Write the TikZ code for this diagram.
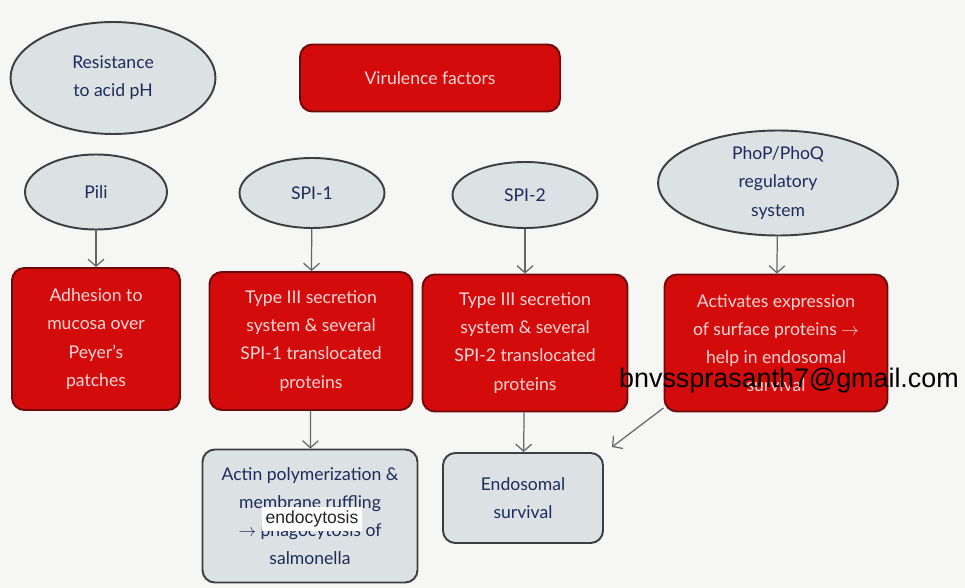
\documentclass[tikz,border=0pt]{standalone}
\usepackage{fontspec}
\setmainfont{Lato}
\setsansfont{Liberation Sans}
\usetikzlibrary{shapes.geometric,arrows.meta,positioning}

\definecolor{virred}{HTML}{D40B0B}
\definecolor{redrim}{HTML}{6E0A0A}
\definecolor{pinktext}{HTML}{FFD6D6}
\definecolor{ovalfill}{HTML}{DCE1E4}
\definecolor{ovaledge}{HTML}{3C3F42}
\definecolor{navytext}{HTML}{1E2C5C}
\definecolor{arrowgrey}{HTML}{626866}
\definecolor{paper}{HTML}{F6F6F4}

\begin{document}
\begin{tikzpicture}[x=0.02cm,y=-0.02cm,
  oval/.style={ellipse,draw=ovaledge,fill=ovalfill,line width=1.1pt,text=navytext,align=center,inner sep=0pt,font=\fontsize{10}{16}\selectfont},
  redbox/.style={rectangle,rounded corners=7pt,draw=redrim,fill=virred,line width=1.1pt,text=pinktext,align=center,inner sep=0pt,font=\fontsize{10}{16}\selectfont},
  greybox/.style={rectangle,rounded corners=7pt,draw=ovaledge,fill=ovalfill,line width=1.1pt,text=navytext,align=center,inner sep=0pt,font=\fontsize{10}{16}\selectfont},
  link/.style={draw=arrowgrey,line width=0.7pt,-{Straight Barb[length=4pt,width=9pt]}}]

\fill[paper] (0,0) rectangle (965,588);
\useasboundingbox (0,0) rectangle (965,588);

% top row
\node[oval,minimum width=4.1cm,minimum height=2.24cm] (acid) at (113,78) {Resistance\\to acid pH};
\node[redbox,minimum width=5.2cm,minimum height=1.34cm] (vir) at (430,78) {Virulence factors};

% ellipses
\node[oval,minimum width=2.84cm,minimum height=1.5cm] (pili) at (96,192) {Pili};
\node[oval,minimum width=2.9cm,minimum height=1.4cm] (spione) at (312,193) {SPI-1};
\node[oval,minimum width=2.9cm,minimum height=1.32cm] (spitwo) at (525,195) {SPI-2};
\node[oval,minimum width=4.8cm,minimum height=2.1cm] (phop) at (778,183) {PhoP/PhoQ\\regulatory\\system};

% red boxes
\node[redbox,minimum width=3.36cm,minimum height=2.84cm] (adh) at (96,339) {Adhesion to\\mucosa over\\Peyer's\\patches};
\node[redbox,minimum width=4.06cm,minimum height=2.76cm] (ttone) at (311,341) {Type III secretion\\system \& several\\SPI-1 translocated\\proteins};
\node[redbox,minimum width=4.1cm,minimum height=2.74cm] (tttwo) at (525,343) {Type III secretion\\system \& several\\SPI-2 translocated\\proteins};
\node[redbox,minimum width=4.46cm,minimum height=2.74cm] (act) at (776,343) {Activates expression\\of surface proteins $\rightarrow$\\help in endosomal\\survival};

% outcomes
\node[greybox,minimum width=4.3cm,minimum height=2.66cm] (actin) at (310,516) {Actin polymerization \&\\membrane ruffling\\$\rightarrow$ phagocytosis of\\salmonella};
\node[greybox,minimum width=3.2cm,minimum height=1.8cm] (endo) at (523,498) {Endosomal\\survival};
\node[fill=white,inner sep=2pt,font=\sffamily\fontsize{10}{12}\selectfont,text=black!85] (endocyt) at (312,519) {endocytosis};

\coordinate (loose) at (612,447);

\draw[link] (pili) -- (adh);
\draw[link] (spione) -- (ttone);
\draw[link] (spitwo) -- (tttwo);
\draw[link] (phop) -- (act);
\draw[link] (ttone) -- (actin);
\draw[link] (tttwo) -- (endo);
\draw[link] (act.-150) -- (loose);

\node[font=\sffamily\fontsize{15.3}{17}\selectfont,text=black] (mail) at (789,381) {bnvssprasanth7@gmail.com};

\end{tikzpicture}
\end{document}
